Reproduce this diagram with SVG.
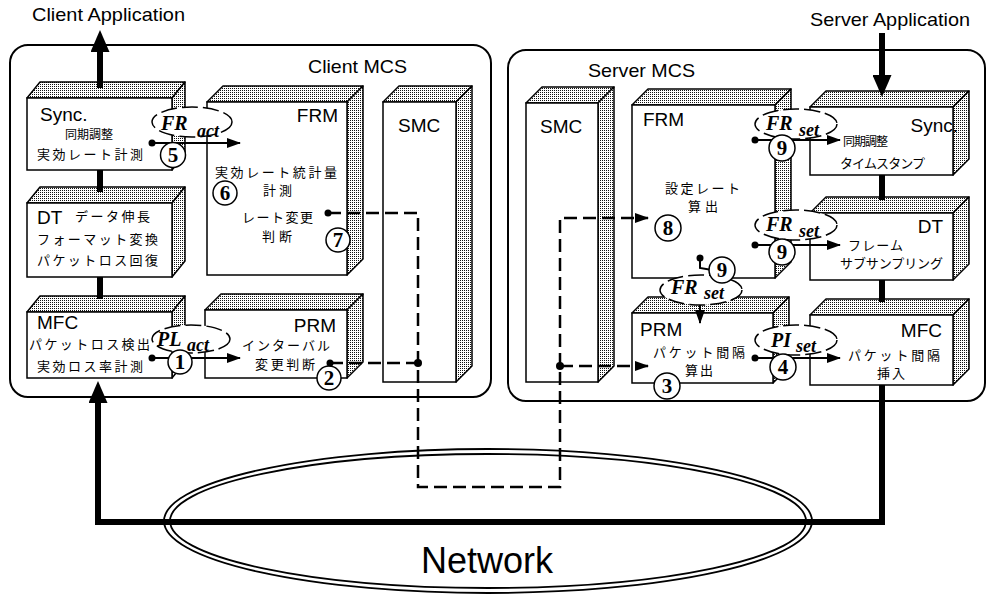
<svg xmlns="http://www.w3.org/2000/svg" width="990" height="595" viewBox="0 0 990 595">
<defs>
<pattern id="dots" width="2" height="2" patternUnits="userSpaceOnUse"><rect width="2" height="2" fill="#fff"/><rect width="1" height="1" fill="#111"/></pattern>
<marker id="ah" markerUnits="userSpaceOnUse" viewBox="0 0 14 10" markerWidth="14" markerHeight="10" refX="13" refY="5" orient="auto"><path d="M0,0 L14,5 L0,10 z" fill="#000"/></marker>
<marker id="ahT" markerUnits="userSpaceOnUse" viewBox="0 0 22 19" markerWidth="22" markerHeight="19" refX="0" refY="9.5" orient="auto"><path d="M0,0 L22,9.5 L0,19 z" fill="#000"/></marker>
</defs>
<style>
.ctr{fill:none;stroke:#000;stroke-width:2}
.face{fill:#fff;stroke:#000;stroke-width:1.5}
.tex{fill:url(#dots);stroke:#000;stroke-width:1.5;stroke-linejoin:round}
.lab{font-family:"Liberation Sans",Arial,sans-serif;font-size:19px;fill:#000}
.jp{font-family:"Noto Sans CJK JP",sans-serif;font-size:13px;fill:#000}
.jps{font-family:"Noto Sans CJK JP",sans-serif;font-size:12px;fill:#000}
.thick{fill:none;stroke:#000;stroke-width:6}
.dash{fill:none;stroke:#000;stroke-width:2.5;stroke-dasharray:13 6}
.thin{fill:none;stroke:#000;stroke-width:2}
.ell{fill:#fff;stroke:#000;stroke-width:1.5;stroke-dasharray:16 5}
.num{fill:#fff;stroke:#000;stroke-width:1.5}
.numt{font-family:"Liberation Serif","Times New Roman",serif;font-size:21px;font-weight:bold;text-anchor:middle;fill:#000}
.it{font-family:"Liberation Serif","Times New Roman",serif;font-style:italic;font-weight:bold;font-size:20px;fill:#000}
.its{font-family:"Liberation Serif","Times New Roman",serif;font-style:italic;font-weight:bold;font-size:18px;fill:#000}
</style>
<rect width="990" height="595" fill="#fff"/>

<text class="lab" x="32" y="21" textLength="153" lengthAdjust="spacingAndGlyphs">Client Application</text>
<text class="lab" x="810" y="26" textLength="160" lengthAdjust="spacingAndGlyphs">Server Application</text>

<g id="client-mcs">
<rect class="ctr" x="10" y="45" width="481" height="352" rx="18"/>
<text class="lab" x="308" y="73" textLength="99" lengthAdjust="spacingAndGlyphs">Client MCS</text>
</g>
<g id="server-mcs">
<rect class="ctr" x="508" y="50" width="477" height="351" rx="18"/>
<text class="lab" x="588" y="77" textLength="107" lengthAdjust="spacingAndGlyphs">Server MCS</text>
</g>

<g id="network">
<ellipse cx="488" cy="521" rx="324" ry="72" fill="none" stroke="#000" stroke-width="1.8"/>
<ellipse cx="488" cy="521" rx="318" ry="67" fill="none" stroke="#000" stroke-width="1.8"/>
<text x="487" y="573" font-family="Liberation Sans, Arial, sans-serif" font-size="36" text-anchor="middle">Network</text>
</g>

<g id="c-sync">
<polygon class="tex" points="27,98 40,82 185,82 172,98"/>
<polygon class="tex" points="172,98 185,82 185,154 172,170"/>
<rect class="face" x="27" y="98" width="145" height="72"/>
<text class="lab" x="40" y="121">Sync.</text>
<text class="jps" x="65" y="139" textLength="48">同期調整</text>
<text class="jp" x="37" y="159" textLength="106">実効レート計測</text>
</g>
<g id="c-dt">
<polygon class="tex" points="27,203 40,187 185,187 172,203"/>
<polygon class="tex" points="172,203 185,187 185,261 172,277"/>
<rect class="face" x="27" y="203" width="145" height="74"/>
<text class="lab" x="37" y="224">DT</text>
<text class="jp" x="75" y="221" textLength="75">データ伸長</text>
<text class="jp" x="37" y="244" textLength="121">フォーマット変換</text>
<text class="jp" x="37" y="265" textLength="121">パケットロス回復</text>
</g>
<g id="c-mfc">
<polygon class="tex" points="27,312 40,296 185,296 172,312"/>
<polygon class="tex" points="172,312 185,296 185,362 172,378"/>
<rect class="face" x="27" y="312" width="145" height="66"/>
<text class="lab" x="37" y="329">MFC</text>
<text class="jp" x="29" y="349" textLength="121">パケットロス検出</text>
<text class="jp" x="37" y="371" textLength="106">実効ロス率計測</text>
</g>
<g id="c-frm">
<polygon class="tex" points="207,102 223,86 363,86 347,102"/>
<polygon class="tex" points="347,102 363,86 363,259 347,275"/>
<rect class="face" x="207" y="102" width="140" height="173"/>
<text class="lab" x="338" y="122" text-anchor="end">FRM</text>
<text class="jp" x="215" y="177" textLength="122">実効レート統計量</text>
<text class="jp" x="263" y="195" textLength="29">計測</text>
<text class="jp" x="242" y="222" textLength="71">レート変更</text>
<text class="jp" x="262" y="241" textLength="30">判断</text>
<circle class="num" cx="225" cy="193" r="12"/><text class="numt" x="225" y="200">6</text>
<circle class="num" cx="338" cy="240" r="12"/><text class="numt" x="338" y="247">7</text>
</g>
<g id="c-prm">
<polygon class="tex" points="205,310 221,294 363,294 347,310"/>
<polygon class="tex" points="347,310 363,294 363,362 347,378"/>
<rect class="face" x="205" y="310" width="142" height="68"/>
<text class="lab" x="336" y="332" text-anchor="end">PRM</text>
<text class="jp" x="242" y="350" textLength="88">インターバル</text>
<text class="jp" x="255" y="369" textLength="60">変更判断</text>
<circle class="num" cx="329" cy="378" r="12"/><text class="numt" x="329" y="385">2</text>
</g>
<g id="c-smc">
<polygon class="tex" points="383,102 399,86 472,86 456,102"/>
<polygon class="tex" points="456,102 472,86 472,366 456,382"/>
<rect class="face" x="383" y="102" width="73" height="280"/>
<text class="lab" x="398" y="132">SMC</text>
</g>

<g id="s-smc">
<polygon class="tex" points="526,103 542,87 614,87 598,103"/>
<polygon class="tex" points="598,103 614,87 614,366 598,382"/>
<rect class="face" x="526" y="103" width="72" height="279"/>
<text class="lab" x="540" y="133">SMC</text>
</g>
<g id="s-frm">
<polygon class="tex" points="632,105 648,89 791,89 775,105"/>
<polygon class="tex" points="775,105 791,89 791,262 775,278"/>
<rect class="face" x="632" y="105" width="143" height="173"/>
<text class="lab" x="643" y="126">FRM</text>
<text class="jp" x="665" y="193" textLength="75">設定レート</text>
<text class="jp" x="688" y="211" textLength="30">算出</text>
<circle class="num" cx="668" cy="228" r="13"/><text class="numt" x="668" y="235">8</text>
</g>
<g id="s-prm">
<polygon class="tex" points="632,313 648,297 789,297 773,313"/>
<polygon class="tex" points="773,313 789,297 789,367 773,383"/>
<rect class="face" x="632" y="313" width="141" height="70"/>
<text class="lab" x="640" y="336">PRM</text>
<text class="jp" x="653" y="357" textLength="92">パケット間隔</text>
<text class="jp" x="685" y="375" textLength="28">算出</text>
<circle class="num" cx="667" cy="386" r="13"/><text class="numt" x="667" y="393">3</text>
</g>
<g id="s-sync">
<polygon class="tex" points="810,107 826,91 969,91 953,107"/>
<polygon class="tex" points="953,107 969,91 969,159 953,175"/>
<rect class="face" x="810" y="107" width="143" height="68"/>
<text class="lab" x="958" y="132" text-anchor="end">Sync.</text>
<text class="jps" x="843" y="146" textLength="45">同期調整</text>
<text class="jp" x="840" y="168" textLength="85">タイムスタンプ</text>
</g>
<g id="s-dt">
<polygon class="tex" points="810,213 826,197 969,197 953,213"/>
<polygon class="tex" points="953,213 969,197 969,264 953,280"/>
<rect class="face" x="810" y="213" width="143" height="67"/>
<text class="lab" x="943" y="233" text-anchor="end">DT</text>
<text class="jp" x="848" y="250" textLength="55">フレーム</text>
<text class="jp" x="840" y="268" textLength="103">サブサンプリング</text>
</g>
<g id="s-mfc">
<polygon class="tex" points="810,315 826,299 969,299 953,315"/>
<polygon class="tex" points="953,315 969,299 969,369 953,385"/>
<rect class="face" x="810" y="315" width="143" height="70"/>
<text class="lab" x="942" y="337" text-anchor="end">MFC</text>
<text class="jp" x="848" y="360" textLength="92">パケット間隔</text>
<text class="jp" x="877" y="378" textLength="28">挿入</text>
</g>

<g id="connectors">
<path class="thick" d="M100,88 V52" marker-end="url(#ahT)"/>
<path class="thick" d="M100,170 V192"/>
<path class="thick" d="M100,277 V299"/>
<path class="thick" d="M882,33 V75" marker-end="url(#ahT)"/>
<path class="thick" d="M882,175 V200"/>
<path class="thick" d="M882,280 V302"/>
<path class="thick" d="M882,385 V522 H98 V403" stroke-linejoin="miter" marker-end="url(#ahT)"/>

<path class="dash" d="M328,213 H418 V487 H560 V218 H648" marker-end="url(#ah)"/>
<path class="dash" d="M330,363 H418"/>
<path class="dash" d="M560,366 H648" marker-end="url(#ah)"/>
<circle cx="328" cy="213" r="3.5"/>
<circle cx="330" cy="363" r="3.5"/>
<circle cx="418" cy="363" r="4"/>
<circle cx="560" cy="366" r="4"/>

<path class="thin" d="M152,143 H240" marker-end="url(#ah)"/>
<path class="thin" d="M152,358 H240" marker-end="url(#ah)"/>
<path class="thin" d="M755,140 H840" marker-end="url(#ah)"/>
<path class="thin" d="M755,245 H840" marker-end="url(#ah)"/>
<path class="thin" d="M755,358 H840" marker-end="url(#ah)"/>
<path class="thin" d="M700,258 V268 L712,270"/>
<circle cx="152" cy="143" r="3.5"/>
<circle cx="152" cy="358" r="3.5"/>
<circle cx="755" cy="140" r="3.5"/>
<circle cx="755" cy="245" r="3.5"/>
<circle cx="755" cy="358" r="3.5"/>
<circle cx="700" cy="258" r="3.5"/>

<g id="lbl-fr-act">
<ellipse class="ell" cx="192" cy="122" rx="40" ry="15"/>
<text class="it" x="161" y="130">FR</text><text class="its" x="197" y="137">act</text>
</g>
<g id="lbl-pl-act">
<ellipse class="ell" cx="191" cy="339" rx="39" ry="14"/>
<text class="it" x="157" y="346">PL</text><text class="its" x="187" y="351">act</text>
</g>
<g id="lbl-fr-set-1">
<ellipse class="ell" cx="796" cy="124" rx="41" ry="15"/>
<text class="it" x="766" y="130">FR</text><text class="its" x="799" y="136">set</text>
</g>
<g id="lbl-fr-set-2">
<ellipse class="ell" cx="796" cy="225" rx="41" ry="15"/>
<text class="it" x="766" y="231">FR</text><text class="its" x="799" y="237">set</text>
</g>
<g id="lbl-fr-set-3">
<path class="thin" d="M700,304 V323" marker-end="url(#ah)"/>
<ellipse class="ell" cx="701" cy="290" rx="41" ry="15"/>
<text class="it" x="671" y="294">FR</text><text class="its" x="704" y="299">set</text>
</g>
<g id="lbl-pi-set">
<ellipse class="ell" cx="796" cy="340" rx="41" ry="15"/>
<text class="it" x="771" y="347">PI</text><text class="its" x="796" y="352">set</text>
</g>

<circle class="num" cx="173" cy="155" r="12.5"/><text class="numt" x="173" y="162">5</text>
<circle class="num" cx="180" cy="362" r="12"/><text class="numt" x="180" y="369">1</text>
<circle class="num" cx="782" cy="148" r="13"/><text class="numt" x="782" y="155">9</text>
<circle class="num" cx="782" cy="252" r="13"/><text class="numt" x="782" y="259">9</text>
<circle class="num" cx="722" cy="270" r="13"/><text class="numt" x="722" y="277">9</text>
<circle class="num" cx="783" cy="367" r="13"/><text class="numt" x="783" y="374">4</text>
</g>
</svg>
